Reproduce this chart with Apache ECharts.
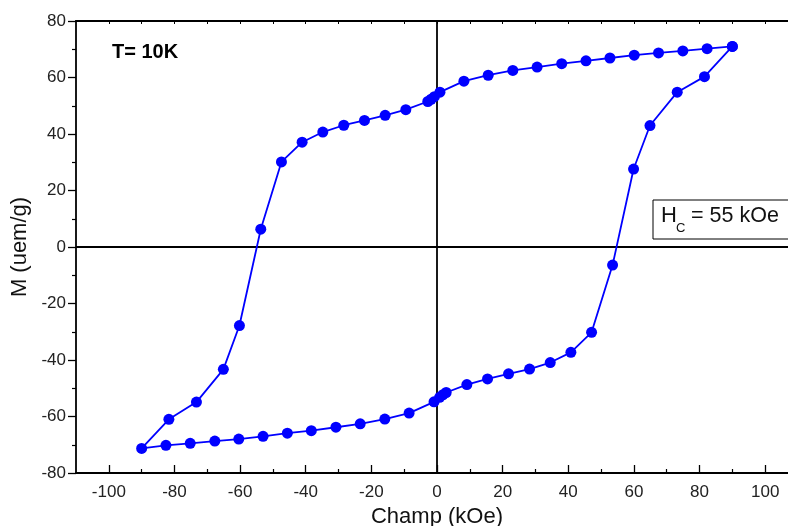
<!DOCTYPE html>
<html>
<head>
<meta charset="utf-8">
<script src="https://cdn.jsdelivr.net/npm/echarts@6/dist/echarts.min.js"></script>
<style>
html,body{margin:0;padding:0;background:#fff;}
#chart{width:788px;height:526px;}
</style>
</head>
<body>
<div id="chart"></div>
<script>
// Descending branch (from +90 kOe to -90 kOe)
var descH = [90, 82.3, 74.9, 67.5, 60.1, 52.7, 45.4, 38.0, 30.5, 23.1, 15.6, 8.2, 0.9, -0.8, -1.8, -2.8, -9.5, -15.8, -22.1, -28.4, -34.8, -41.1, -47.4, -53.7, -60.2, -65.1, -73.3, -81.7, -90];
var descM = [71.0, 70.2, 69.4, 68.7, 67.9, 66.9, 65.9, 64.9, 63.7, 62.5, 60.8, 58.7, 54.8, 53.2, 52.3, 51.5, 48.6, 46.6, 44.8, 43.1, 40.7, 37.1, 30.1, 6.3, -27.8, -43.3, -54.9, -61.0, -71.3];
// Ascending branch (from -90 kOe to +90 kOe)
var ascH = [-90, -82.6, -75.2, -67.7, -60.4, -53.0, -45.6, -38.3, -30.8, -23.4, -15.9, -8.5, -0.9, 0.8, 1.8, 2.8, 9.1, 15.4, 21.8, 28.2, 34.5, 40.8, 47.1, 53.5, 59.9, 64.9, 73.2, 81.5, 90];
var ascM = [-71.3, -70.2, -69.5, -68.7, -68.0, -67.0, -65.9, -65.0, -63.8, -62.6, -60.9, -58.8, -54.8, -53.2, -52.3, -51.5, -48.7, -46.7, -44.9, -43.2, -40.9, -37.3, -30.2, -6.4, 27.6, 43.0, 54.8, 60.3, 71.0];

var xMajorTicks = [-100, -80, -60, -40, -20, 0, 20, 40, 60, 80, 100];
var xMinorTicks = [-90, -70, -50, -30, -10, 10, 30, 50, 70, 90];
var xTopTicks = [-100, -90, -80, -70, -60, -50, -40, -30, -20, -10, 0, 10, 20, 30, 40, 50, 60, 70, 80, 90, 100];

var xName = 'Champ (kOe)';
var yName = 'M (uem/g)';
var tempLabel = 'T= 10K';

var loop = [];
descH.forEach(function (h, i) { loop.push([h, descM[i]]); });
ascH.forEach(function (h, i) { if (i > 0) loop.push([h, ascM[i]]); });

var FONT = '"Liberation Sans", Arial, sans-serif';
var chart = echarts.init(document.getElementById('chart'), null, {renderer: 'canvas'});

var option = {
  animation: false,
  backgroundColor: '#fff',
  grid: {left: 76, top: 21, bottom: 53, right: -10, containLabel: false, outerBoundsMode: 'none'},
  xAxis: [
    {
      type: 'value', position: 'bottom', min: -110, max: 110,
      name: xName, nameLocation: 'middle', nameGap: 30,
      nameTextStyle: {fontFamily: FONT, fontSize: 22, color: '#111'},
      axisLine: {show: true, onZero: false, lineStyle: {color: '#000', width: 1.8}},
      axisTick: {show: true, inside: true, length: 8, customValues: xMajorTicks, lineStyle: {color: '#000', width: 1.3}},
      axisLabel: {show: true, customValues: xMajorTicks, margin: 11, fontFamily: FONT, fontSize: 17, color: '#222'},
      splitLine: {show: false}
    },
    {
      type: 'value', position: 'bottom', min: -110, max: 110,
      axisLine: {show: false, onZero: false},
      axisTick: {show: true, inside: true, length: 4, customValues: xMinorTicks, lineStyle: {color: '#000', width: 1.2}},
      axisLabel: {show: false},
      splitLine: {show: false}
    },
    {
      type: 'value', position: 'top', min: -110, max: 110,
      axisLine: {show: true, onZero: false, lineStyle: {color: '#000', width: 1.8}},
      axisTick: {show: true, inside: true, length: 3, customValues: xTopTicks, lineStyle: {color: '#000', width: 1}},
      axisLabel: {show: false},
      splitLine: {show: false}
    }
  ],
  yAxis: [
    {
      type: 'value', position: 'left', min: -80, max: 80, interval: 20,
      name: yName, nameLocation: 'middle', nameGap: 39,
      nameTextStyle: {fontFamily: FONT, fontSize: 22, color: '#111'},
      axisLine: {show: true, onZero: false, lineStyle: {color: '#000', width: 1.8}},
      axisTick: {show: true, inside: false, length: 8, lineStyle: {color: '#000', width: 1.3}},
      minorTick: {show: true, splitNumber: 2, length: 4, lineStyle: {color: '#000', width: 1.2}},
      axisLabel: {margin: 10, fontFamily: FONT, fontSize: 17, color: '#222'},
      splitLine: {show: false}
    }
  ],
  series: [
    {
      type: 'line',
      xAxisIndex: 0, yAxisIndex: 0,
      data: loop,
      symbol: 'circle', symbolSize: 11,
      lineStyle: {color: '#0000ff', width: 1.8},
      itemStyle: {color: '#0000ff'},
      emphasis: {disabled: true},
      z: 3,
      markLine: {
        silent: true, symbol: ['none', 'none'],
        label: {show: false},
        lineStyle: {color: '#000', width: 1.8, type: 'solid'},
        emphasis: {disabled: true},
        data: [{xAxis: 0}, {yAxis: 0}],
        z: 2
      }
    }
  ],
  graphic: [
    {type: 'text', x: 112, y: 52, style: {text: tempLabel, font: 'bold 20px ' + FONT, fill: '#000', verticalAlign: 'middle'}},
    {type: 'rect', shape: {x: 653, y: 200, width: 150, height: 39}, style: {fill: '#fff', stroke: '#000', lineWidth: 1}, z: 10},
    {type: 'text', x: 661, y: 216, style: {text: 'H', font: '22px ' + FONT, fill: '#111', verticalAlign: 'middle'}, z: 11},
    {type: 'text', x: 676, y: 228, style: {text: 'C', font: '13px ' + FONT, fill: '#111', verticalAlign: 'middle'}, z: 11},
    {type: 'text', x: 691, y: 216, style: {text: '= 55 kOe', font: '21.5px ' + FONT, fill: '#111', verticalAlign: 'middle'}, z: 11}
  ]
};
chart.setOption(option);
</script>
</body>
</html>
